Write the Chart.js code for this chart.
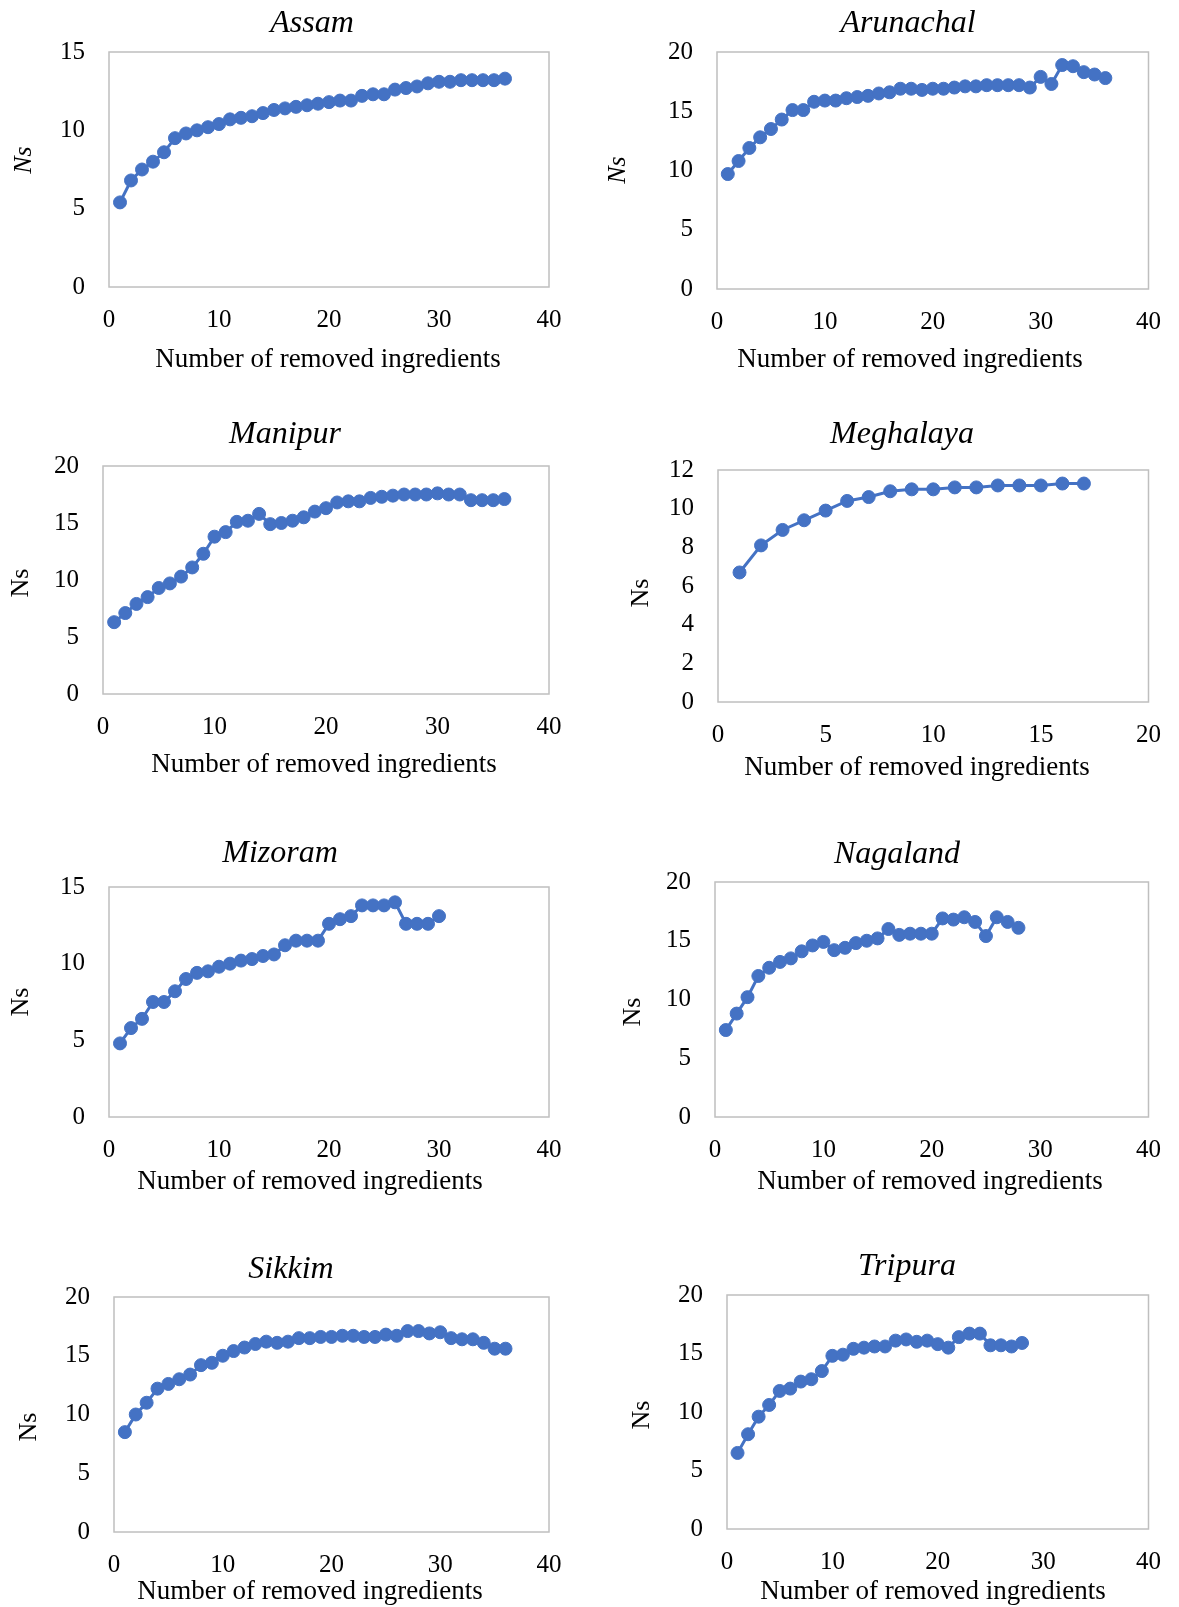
<!DOCTYPE html>
<html>
<head>
<meta charset="utf-8">
<script src="https://cdn.jsdelivr.net/npm/chart.js@4.4.1/dist/chart.umd.min.js"></script>
<style>
  body { margin: 0; background: #fff; }
  #page { position: relative; width: 1179px; height: 1607px; overflow: hidden; }
  .panel { position: absolute; }
</style>
</head>
<body>
<div id="page"></div>
<script>
// Ns after removing 1, 2, 3 ... ingredients, per state
const assamNs = [5.4, 6.8, 7.5, 8.0, 8.6, 9.5, 9.8, 10.0, 10.2, 10.4, 10.7, 10.8, 10.9, 11.1, 11.3, 11.4, 11.5, 11.6, 11.7, 11.8, 11.9, 11.9, 12.2, 12.3, 12.3, 12.6, 12.7, 12.8, 13.0, 13.1, 13.1, 13.2, 13.2, 13.2, 13.2, 13.3];
const arunachalNs = [9.7, 10.8, 11.9, 12.8, 13.5, 14.3, 15.1, 15.1, 15.8, 15.9, 15.9, 16.1, 16.2, 16.3, 16.5, 16.6, 16.9, 16.9, 16.8, 16.9, 16.9, 17.0, 17.1, 17.1, 17.2, 17.2, 17.2, 17.2, 17.0, 17.9, 17.3, 18.9, 18.8, 18.3, 18.1, 17.8];
const manipurNs = [6.3, 7.1, 7.9, 8.5, 9.3, 9.7, 10.3, 11.1, 12.3, 13.8, 14.2, 15.1, 15.2, 15.8, 14.9, 15.0, 15.2, 15.5, 16.0, 16.3, 16.8, 16.9, 16.9, 17.2, 17.3, 17.4, 17.5, 17.5, 17.5, 17.6, 17.5, 17.5, 17.0, 17.0, 17.0, 17.1];
const meghalayaNs = [6.7, 8.1, 8.9, 9.4, 9.9, 10.4, 10.6, 10.9, 11.0, 11.0, 11.1, 11.1, 11.2, 11.2, 11.2, 11.3, 11.3];
const mizoramNs = [4.8, 5.8, 6.4, 7.5, 7.5, 8.2, 9.0, 9.4, 9.5, 9.8, 10.0, 10.2, 10.3, 10.5, 10.6, 11.2, 11.5, 11.5, 11.5, 12.6, 12.9, 13.1, 13.8, 13.8, 13.8, 14.0, 12.6, 12.6, 12.6, 13.1];
const nagalandNs = [7.4, 8.8, 10.2, 12.0, 12.7, 13.2, 13.5, 14.1, 14.6, 14.9, 14.2, 14.4, 14.8, 15.0, 15.2, 16.0, 15.5, 15.6, 15.6, 15.6, 16.9, 16.8, 17.0, 16.6, 15.4, 17.0, 16.6, 16.1];
const sikkimNs = [8.5, 10.0, 11.0, 12.2, 12.6, 13.0, 13.4, 14.2, 14.4, 15.0, 15.4, 15.7, 16.0, 16.2, 16.1, 16.2, 16.5, 16.5, 16.6, 16.6, 16.7, 16.7, 16.6, 16.6, 16.8, 16.7, 17.1, 17.1, 16.9, 17.0, 16.5, 16.4, 16.4, 16.1, 15.6, 15.6];
const tripuraNs = [6.5, 8.1, 9.6, 10.6, 11.8, 12.0, 12.6, 12.8, 13.5, 14.8, 14.9, 15.4, 15.5, 15.6, 15.6, 16.1, 16.2, 16.0, 16.1, 15.8, 15.5, 16.4, 16.7, 16.7, 15.7, 15.7, 15.6, 15.9];

const states = ["Assam", "Arunachal", "Manipur", "Meghalaya", "Mizoram", "Nagaland", "Sikkim", "Tripura"];
const seriesByState = [assamNs, arunachalNs, manipurNs, meghalayaNs, mizoramNs, nagalandNs, sikkimNs, tripuraNs];

// axis ranges (tick labels)
const xMax = [40, 40, 40, 20, 40, 40, 40, 40];
const xStep = [10, 10, 10, 5, 10, 10, 10, 10];
const yMax = [15, 20, 20, 12, 15, 20, 20, 20];
const yStep = [5, 5, 5, 2, 5, 5, 5, 5];

const xTitle = "Number of removed ingredients";
const yTitle = "Ns";

// page layout: canvas box, plot box [l, t, r, b], text anchors (page px)
const layout = [
  { box: [0, 0, 589, 410], plot: [109, 52, 549, 287], title: [312, 32], ylab: [24, 160], xlab: [328, 367], yItalic: true },
  { box: [590, 0, 589, 410], plot: [717, 52, 1154, 289], title: [908, 32], ylab: [618, 170], xlab: [910, 367], yItalic: true },
  { box: [0, 410, 589, 410], plot: [103, 466, 549, 694], title: [285, 443], ylab: [21, 583], xlab: [324, 772], yItalic: false },
  { box: [590, 410, 589, 410], plot: [718, 470, 1154, 702], title: [902, 443], ylab: [641, 593], xlab: [917, 775], yItalic: false },
  { box: [0, 820, 589, 410], plot: [109, 887, 549, 1117], title: [280, 862], ylab: [21, 1002], xlab: [310, 1189], yItalic: false },
  { box: [590, 820, 589, 410], plot: [715, 882, 1154, 1117], title: [897, 863], ylab: [633, 1012], xlab: [930, 1189], yItalic: false },
  { box: [0, 1230, 589, 377], plot: [114, 1297, 549, 1532], title: [291, 1278], ylab: [29, 1427], xlab: [310, 1599], yItalic: false },
  { box: [590, 1230, 589, 377], plot: [727, 1295, 1154, 1529], title: [907, 1275], ylab: [642, 1415], xlab: [933, 1599], yItalic: false }
];

const Y_AXIS_W = 60;
const X_AXIS_H = 50;
const FONT = "'Liberation Serif', 'Times New Roman', serif";

const plotFrame = {
  id: "plotFrame",
  beforeDatasetsDraw(chart) {
    const { ctx, chartArea: a } = chart;
    ctx.save();
    ctx.strokeStyle = "#bfbfbf";
    ctx.lineWidth = 1.5;
    ctx.strokeRect(a.left, a.top, a.right - a.left, a.bottom - a.top);
    ctx.restore();
  }
};

const panelText = {
  id: "panelText",
  afterDraw(chart, args, opts) {
    const { ctx } = chart;
    const [ox, oy] = opts.origin;
    ctx.save();
    ctx.fillStyle = "#000";
    ctx.textAlign = "center";

    ctx.font = `italic 32px ${FONT}`;
    ctx.textBaseline = "alphabetic";
    ctx.fillText(opts.title, opts.titlePos[0] - ox, opts.titlePos[1] - oy);

    ctx.font = `27px ${FONT}`;
    ctx.fillText(xTitle, opts.xlabPos[0] - ox, opts.xlabPos[1] - oy);

    ctx.translate(opts.ylabPos[0] - ox, opts.ylabPos[1] - oy);
    ctx.rotate(-Math.PI / 2);
    ctx.font = `${opts.yItalic ? "italic " : ""}26px ${FONT}`;
    ctx.textBaseline = "middle";
    ctx.fillText(yTitle, 0, 0);
    ctx.restore();
  }
};

const page = document.getElementById("page");

states.forEach((state, i) => {
  const L = layout[i];
  const [left, top, w, h] = L.box;
  const [pl, pt, pr, pb] = L.plot;

  const wrap = document.createElement("div");
  wrap.className = "panel";
  wrap.style.cssText = `left:${left}px;top:${top}px;width:${w}px;height:${h}px;`;
  const canvas = document.createElement("canvas");
  wrap.appendChild(canvas);
  page.appendChild(wrap);

  const points = seriesByState[i].map((v, k) => ({ x: k + 1, y: v }));

  new Chart(canvas, {
    type: "line",
    data: {
      datasets: [{
        data: points,
        borderColor: "#4472c4",
        backgroundColor: "#4472c4",
        borderWidth: 3,
        pointRadius: 6.5,
        pointBorderWidth: 1,
        pointBackgroundColor: "#4472c4",
        pointBorderColor: "#4472c4",
        tension: 0,
        clip: false
      }]
    },
    options: {
      responsive: true,
      maintainAspectRatio: false,
      animation: false,
      devicePixelRatio: 1,
      layout: {
        padding: {
          left: pl - left - Y_AXIS_W,
          right: left + w - pr,
          top: pt - top,
          bottom: top + h - pb - X_AXIS_H
        }
      },
      plugins: {
        legend: { display: false },
        tooltip: { enabled: false },
        panelText: {
          origin: [left, top],
          title: state,
          titlePos: L.title,
          xlabPos: L.xlab,
          ylabPos: L.ylab,
          yItalic: L.yItalic
        }
      },
      scales: {
        x: {
          type: "linear",
          min: 0,
          max: xMax[i],
          afterFit: (s) => { s.height = X_AXIS_H; },
          grid: { display: false, drawTicks: false },
          border: { display: false },
          ticks: { stepSize: xStep[i], padding: 18, color: "#000", font: { family: FONT, size: 25 } }
        },
        y: {
          min: 0,
          max: yMax[i],
          afterFit: (s) => { s.width = Y_AXIS_W; },
          grid: { display: false, drawTicks: false },
          border: { display: false },
          ticks: { stepSize: yStep[i], padding: 24, color: "#000", font: { family: FONT, size: 25 } }
        }
      }
    },
    plugins: [plotFrame, panelText]
  });
});
</script>
</body>
</html>
